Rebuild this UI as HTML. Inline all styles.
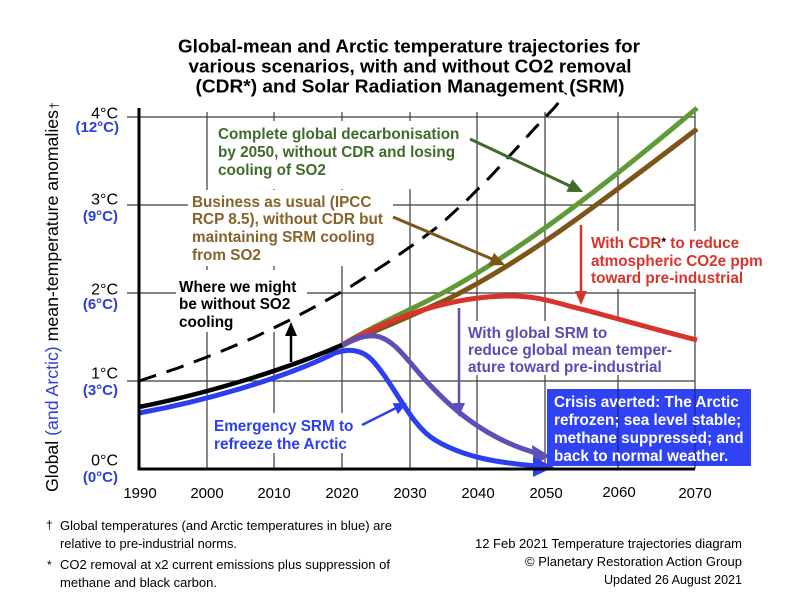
<!DOCTYPE html>
<html><head><meta charset="utf-8"><style>
html,body{margin:0;padding:0;background:#fff;}
svg{display:block;}
text{font-family:"Liberation Sans",Arial,sans-serif;}
.b{font-weight:bold;}
</style></head><body>
<svg width="792" height="612" viewBox="0 0 792 612" xmlns="http://www.w3.org/2000/svg">
<rect x="0" y="0" width="792" height="612" fill="#fff"/>

<!-- Title -->
<g class="b" font-size="18.5" text-anchor="middle" fill="#000">
<text x="409" y="52.5" font-weight="bold" textLength="462" lengthAdjust="spacingAndGlyphs">Global-mean and Arctic temperature trajectories for</text>
<text x="410" y="72.5" font-weight="bold" textLength="443" lengthAdjust="spacingAndGlyphs">various scenarios, with and without CO2 removal</text>
<text x="410" y="92.5" font-weight="bold" textLength="429" lengthAdjust="spacingAndGlyphs">(CDR*) and Solar Radiation Management (SRM)</text>
</g>

<!-- Grid -->
<g stroke="#3a3a3a" stroke-width="1.2" fill="none">
<line x1="127" y1="117" x2="695" y2="117"/>
<line x1="127" y1="205" x2="695" y2="205"/>
<line x1="127" y1="293" x2="695" y2="293"/>
<line x1="127" y1="381" x2="695" y2="381"/>
<line x1="207" y1="112" x2="207" y2="469"/>
<line x1="274" y1="112" x2="274" y2="469"/>
<line x1="342" y1="112" x2="342" y2="469"/>
<line x1="410" y1="112" x2="410" y2="469"/>
<line x1="477" y1="112" x2="477" y2="469"/>
<line x1="545" y1="112" x2="545" y2="469"/>
<line x1="618" y1="112" x2="618" y2="469"/>
<line x1="695" y1="112" x2="695" y2="469"/>
</g>

<!-- White text backgrounds hiding grid -->
<g fill="#fff">
<rect x="211" y="121" width="258" height="68"/>
<rect x="188" y="190" width="205" height="76"/>
<rect x="176" y="270" width="131" height="62"/>
<rect x="210" y="413" width="155" height="40"/>
<rect x="465" y="321" width="215" height="54"/>
<rect x="586" y="231" width="180" height="58"/>
</g>

<!-- Dashed "without SO2" curve -->
<path d="M139,381 L178,368 L215,354 L253,338 L290,320 L320,304 L350,287 L387,263 L420,240 L440,225 L467,200 L490,177 L515,150 L535,128 L555,107 L566,93" fill="none" stroke="#000" stroke-width="3" stroke-dasharray="18 11"/>

<!-- Green -->
<path d="M342,345 C380,322 420,306 450,289 C520,250 600,190 697,108" fill="none" stroke="#5e9a35" stroke-width="5"/>
<!-- Brown -->
<path d="M342,345 C390,325 420,312 450,298 C530,258 610,195 697,129" fill="none" stroke="#7d5519" stroke-width="5"/>
<!-- Red -->
<path d="M342,345 C395,315 455,296 510,296 C540,296 555,303 585,310 C630,322 665,332 697,340" fill="none" stroke="#d8342b" stroke-width="5"/>
<!-- Purple -->
<path d="M342,346 C352,340 362,335 375,336 C395,338 410,365 430,385 C455,412 490,440 536,453" fill="none" stroke="#5b4fb8" stroke-width="5"/>
<polygon points="550,456 532,445 534,465" fill="#5b4fb8"/>
<!-- Blue -->
<path d="M139,413 C200,402 280,380 335,353 C350,348 362,350 372,360 C395,385 410,425 435,440 C465,458 500,463 538,466" fill="none" stroke="#2b3ff0" stroke-width="5"/>
<polygon points="554,467 533,457 533,477" fill="#2b3ff0"/>
<!-- Black historical -->
<path d="M139,407 C200,395 280,372 342,345" fill="none" stroke="#000" stroke-width="4.5"/>

<!-- Arrows -->
<g stroke-width="3" fill="none">
<line x1="470" y1="139" x2="570" y2="186" stroke="#3f6c2b"/>
<line x1="393" y1="217" x2="492" y2="259" stroke="#7d5519"/>
<line x1="581" y1="225" x2="581" y2="292" stroke="#d8342b" stroke-width="2.5"/>
<line x1="459" y1="308" x2="459" y2="404" stroke="#5b4fb8" stroke-width="2.5"/>
<line x1="291" y1="362" x2="291" y2="335" stroke="#000" stroke-width="2.5"/>
<line x1="362" y1="425" x2="396" y2="408" stroke="#2b3ff0" stroke-width="2.5"/>
</g>
<polygon points="583,192 566.4,191.9 572.4,179.3" fill="#3f6c2b"/>
<polygon points="505,265 488.4,265.5 494,252.7" fill="#7d5519"/>
<polygon points="581,305 575,291 587,291" fill="#d8342b"/>
<polygon points="459,417 453,403 465,403" fill="#5b4fb8"/>
<polygon points="291,322 285,336 297,336" fill="#000"/>
<polygon points="407,403 397.9,414.1 392.7,403.3" fill="#2b3ff0"/>

<!-- Crisis box -->
<rect x="547" y="389" width="204" height="77" fill="#2f42f4"/>
<g stroke="#000" stroke-opacity="0.45" stroke-width="1.2">
<line x1="618" y1="389" x2="618" y2="466"/>
<line x1="695" y1="389" x2="695" y2="466"/>
</g>

<!-- Axes -->
<line x1="139" y1="108" x2="139" y2="470.5" stroke="#000" stroke-width="3"/>
<line x1="137.5" y1="469" x2="695" y2="469" stroke="#000" stroke-width="3"/>

<!-- Y labels -->
<g font-size="16" text-anchor="end" fill="#000">
<text x="118" y="118.5">4°C</text>
<text x="118" y="204.5">3°C</text>
<text x="118" y="294.5">2°C</text>
<text x="118" y="378.5">1°C</text>
<text x="118" y="465.5">0°C</text>
</g>
<g font-size="15" font-weight="bold" text-anchor="end" fill="#2b3fd8">
<text x="119" y="132">(12°C)</text>
<text x="118" y="221">(9°C)</text>
<text x="118" y="309">(6°C)</text>
<text x="118" y="395">(3°C)</text>
<text x="118" y="482">(0°C)</text>
</g>

<!-- X labels -->
<g font-size="15" text-anchor="middle" fill="#000">
<text x="140" y="498">1990</text>
<text x="207" y="498">2000</text>
<text x="274" y="498">2010</text>
<text x="342" y="498">2020</text>
<text x="410" y="498">2030</text>
<text x="478" y="498">2040</text>
<text x="546" y="498">2050</text>
<text x="619" y="497">2060</text>
<text x="695" y="498">2070</text>
</g>

<!-- Y axis title -->
<text transform="translate(58,492) rotate(-90)" font-size="17.7" fill="#000" textLength="382" lengthAdjust="spacingAndGlyphs">Global <tspan fill="#2b3fd8">(and Arctic)</tspan> mean-temperature anomalies</text>
<text transform="translate(58,109) rotate(-90)" font-size="12" fill="#000">†</text>

<!-- Annotations -->
<g font-size="15.3" font-weight="bold">
<g fill="#3f6c2b">
<text x="218" y="139">Complete global decarbonisation</text>
<text x="218" y="157">by 2050, without CDR and losing</text>
<text x="218" y="175">cooling of SO2</text>
</g>
<g fill="#87622a">
<text x="192" y="207">Business as usual (IPCC</text>
<text x="192" y="224">RCP 8.5), without CDR but</text>
<text x="192" y="242">maintaining SRM cooling</text>
<text x="192" y="260">from SO2</text>
</g>
<g fill="#000">
<text x="179" y="292">Where we might</text>
<text x="179" y="309">be without SO2</text>
<text x="179" y="327">cooling</text>
</g>
<g fill="#2b3ff0">
<text x="214" y="431">Emergency SRM to</text>
<text x="214" y="449">refreeze the Arctic</text>
</g>
<g fill="#5a4cb5">
<text x="468" y="338">With global SRM to</text>
<text x="468" y="355">reduce global mean temper-</text>
<text x="468" y="372">ature toward pre-industrial</text>
</g>
<g fill="#d8342b">
<text x="591" y="248">With CDR<tspan fill="#000" font-size="12" dy="-2">*</tspan><tspan dy="2"> to reduce</tspan></text>
<text x="591" y="266">atmospheric CO2e ppm</text>
<text x="591" y="283">toward pre-industrial</text>
</g>
<g fill="#fff">
<text x="554" y="407">Crisis averted: The Arctic</text>
<text x="554" y="425">refrozen; sea level stable;</text>
<text x="554" y="443">methane suppressed; and</text>
<text x="554" y="461">back to normal weather.</text>
</g>
</g>

<!-- Footnotes -->
<g font-size="13" fill="#000">
<text x="46" y="529" font-size="12">†</text>
<text x="60" y="530" textLength="332" lengthAdjust="spacingAndGlyphs">Global temperatures (and Arctic temperatures in blue) are</text>
<text x="60" y="548" textLength="177" lengthAdjust="spacingAndGlyphs">relative to pre-industrial norms.</text>
<text x="47" y="569" font-size="12">*</text>
<text x="60" y="569" textLength="330" lengthAdjust="spacingAndGlyphs">CO2 removal at x2 current emissions plus suppression of</text>
<text x="60" y="587" textLength="157" lengthAdjust="spacingAndGlyphs">methane and black carbon.</text>
</g>
<g font-size="13" fill="#000" text-anchor="end">
<text x="742" y="548" textLength="267" lengthAdjust="spacingAndGlyphs">12 Feb 2021 Temperature trajectories diagram</text>
<text x="742" y="566" textLength="217" lengthAdjust="spacingAndGlyphs">© Planetary Restoration Action Group</text>
<text x="742" y="584" textLength="138" lengthAdjust="spacingAndGlyphs">Updated 26 August 2021</text>
</g>
</svg>
</body></html>
